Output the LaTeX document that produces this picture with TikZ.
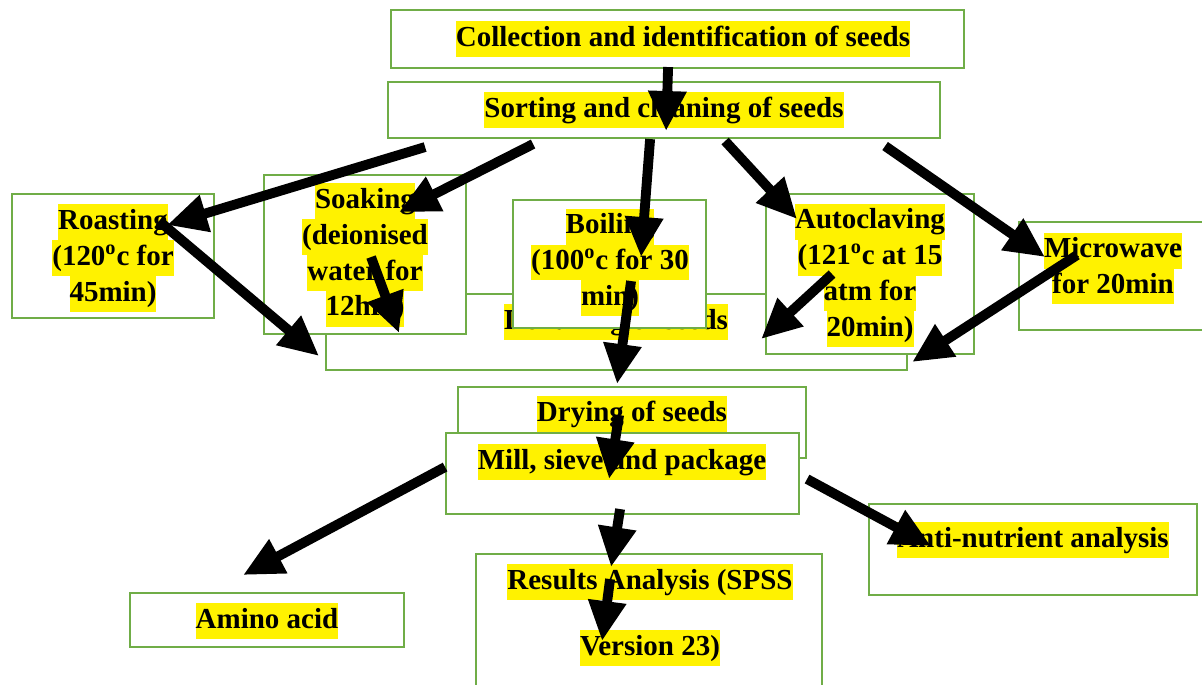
\documentclass[tikz,border=0pt]{standalone}
\usepackage{fontspec}
\setmainfont{Liberation Serif}
\usetikzlibrary{arrows.meta,calc}
\definecolor{boxgreen}{RGB}{112,173,71}
\newcommand\hly[1]{{\setlength{\fboxsep}{0pt}\colorbox{yellow}{\strut #1}}}

\begin{document}
\begin{tikzpicture}[x=0.02cm,y=-0.02cm,
  stage/.style={draw=boxgreen,line width=1.1pt,fill=white,rectangle,inner sep=0pt},
  txt/.style={align=center,font=\bfseries\fontsize{16.5}{20.4}\selectfont,inner sep=0pt},
  flow/.style={line width=5.6pt,-{Triangle[length=0.8cm,width=0.72cm]}}]
\useasboundingbox (0,0) rectangle (1202,684);

% boxes and their texts
\node[stage,minimum width=11.46cm,minimum height=1.16cm] (coll) at (677.5,39) {};
\node[txt] (collT) at (683,39) {\hly{Collection and identification of seeds}};
\node[stage,minimum width=11.04cm,minimum height=1.12cm] (sort) at (664,110) {};
\node[txt] (sortT) at (664,110) {\hly{Sorting and cleaning of seeds}};
\node[stage,minimum width=4.04cm,minimum height=2.48cm] (roast) at (113,256) {};
\node[txt] (roastT) at (113,258) {\hly{Roasting}\\\hly{(120\textsuperscript{o}c for}\\\hly{45min)}};
\node[stage,minimum width=11.62cm,minimum height=1.52cm] (dehull) at (616.5,332) {};
\node[txt] (dehullT) at (616,322) {\hly{Dehulling of seeds}};
\node[stage,minimum width=4.04cm,minimum height=3.18cm] (soak) at (365,254.5) {};
\node[txt] (soakT) at (365,255) {\hly{Soaking}\\\hly{(deionised}\\\hly{water for}\\\hly{12hrs)}};
\node[stage,minimum width=3.86cm,minimum height=2.56cm] (boil) at (609.5,264) {};
\node[txt] (boilT) at (610,262.5) {\hly{Boiling}\\\hly{(100\textsuperscript{o}c for 30}\\\hly{min)}};
\node[stage,minimum width=4.16cm,minimum height=3.2cm] (auto) at (870,274) {};
\node[txt] (autoT) at (870,275.5) {\hly{Autoclaving}\\\hly{(121\textsuperscript{o}c at 15}\\\hly{atm for}\\\hly{20min)}};
\node[stage,minimum width=3.82cm,minimum height=2.16cm] (micro) at (1114.5,276) {};
\node[txt] (microT) at (1113,268.5) {\hly{Microwave}\\\hly{for 20min}};
\node[stage,minimum width=6.96cm,minimum height=1.42cm] (dry) at (632,422.5) {};
\node[txt] (dryT) at (632,414) {\hly{Drying of seeds}};
\node[stage,minimum width=7.06cm,minimum height=1.62cm] (mill) at (622.5,473.5) {};
\node[txt] (millT) at (622,462) {\hly{Mill, sieve and package}};
\node[stage,minimum width=5.48cm,minimum height=1.08cm] (amino) at (267,620) {};
\node[txt] (aminoT) at (267,621) {\hly{Amino acid}};
\node[stage,minimum width=6.92cm,minimum height=2.92cm] (result) at (649,627) {};
\node[txt] (resultT) at (650,615) {\hly{Results Analysis (SPSS}\\[17pt]\hly{Version 23)}};
\node[stage,minimum width=6.56cm,minimum height=1.82cm] (anti) at (1033,549.5) {};
\node[txt] (antiT) at (1033,540) {\hly{Anti-nutrient analysis}};

% arrows
\draw[flow] ($(coll.north west)+(278,58)$) -- ($(sort.north west)+(279,50)$);
\draw[flow] ($(sort.north west)+(38,66)$) -- ($(roast.north west)+(156,32)$);
\draw[flow] ($(sort.north west)+(146,63)$) -- ($(soak.north west)+(136,38)$);
\draw[flow] ($(sort.north west)+(263,58)$) -- ($(boil.north west)+(129,58)$);
\draw[flow] ($(sort.north west)+(338,60)$) -- ($(auto.north west)+(32,26)$);
\draw[flow] ($(sort.north west)+(498,65)$) -- ($(micro.north west)+(27,36)$);
\draw[flow] ($(roast.north west)+(148,28)$) -- ($(dehull.north west)+(-6,63)$);
\draw[flow] ($(soak.north west)+(108,83)$) -- ($(dehull.north west)+(74,40)$);
\draw[flow] ($(boil.north west)+(119,82)$) -- ($(dry.north west)+(160,-2)$);
\draw[flow] ($(auto.north west)+(67,81)$) -- ($(dehull.north west)+(436,46)$);
\draw[flow] ($(micro.north west)+(59,34)$) -- ($(dehull.north west)+(587,69)$);
\draw[flow] ($(dry.north west)+(162,29)$) -- ($(mill.north west)+(164,47)$);
\draw[flow] ($(mill.north west)+(0,35)$) -- ($(amino.north west)+(114,-17)$);
\draw[flow] ($(mill.north west)+(175,77)$) -- ($(result.north west)+(136,14)$);
\draw[flow] ($(result.north west)+(135,26)$) -- ($(result.north west)+(127,88)$);
\draw[flow] ($(mill.north west)+(362,47)$) -- ($(anti.north west)+(63,43)$);
\end{tikzpicture}
\end{document}
